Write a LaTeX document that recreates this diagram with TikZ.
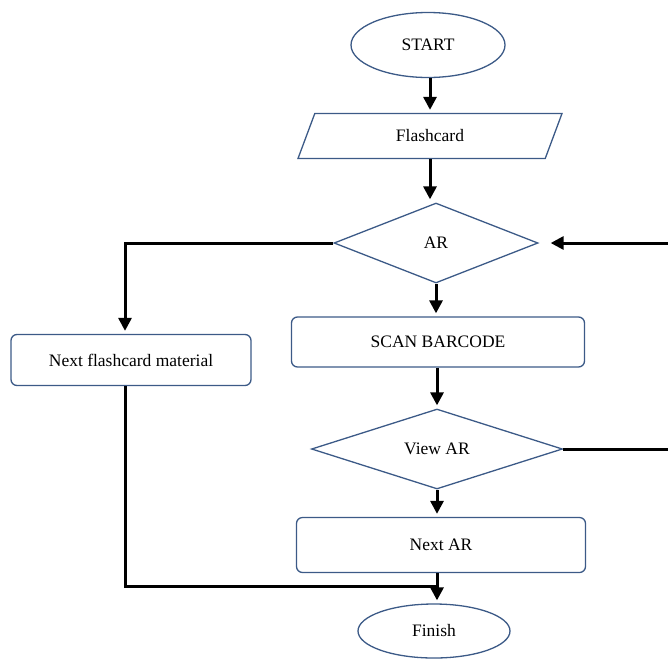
\documentclass[tikz,border=0pt]{standalone}
\usepackage{fontspec}
\setmainfont{Liberation Serif}
\usetikzlibrary{shapes.geometric,arrows.meta}
\definecolor{edgeblue}{RGB}{60,90,135}

\begin{document}
\begin{tikzpicture}[x=1pt,y=-1pt,
   box/.style={draw=edgeblue,line width=1.3pt,rectangle,rounded corners=6pt},
   oval/.style={draw=edgeblue,line width=1.3pt,ellipse},
   choice/.style={draw=edgeblue,line width=1.3pt,diamond,inner sep=0pt},
   flow/.style={line width=3pt,-{Triangle[length=13pt,width=13pt]},shorten >=3pt},
   every node/.style={font=\fontsize{17.5}{20}\selectfont}]
   \useasboundingbox (0,0) rectangle (668,659);

   \node[oval,minimum width=154,minimum height=65] (start) at (428,45) {START};
   \node[draw=edgeblue,line width=1.3pt,trapezium,trapezium left angle=74,
         trapezium right angle=106,trapezium stretches=true,
         minimum width=266,minimum height=45] (flash) at (430,136) {Flashcard};
   \node[choice,minimum width=204,minimum height=80] (ar) at (436,243) {AR};
   \node[box,minimum width=240,minimum height=51] (nextfc) at (131,360) {Next flashcard material};
   \node[box,minimum width=293,minimum height=50] (scan) at (438,342) {SCAN BARCODE};
   \node[choice,minimum width=251,minimum height=80] (view) at (437,449) {View AR};
   \node[box,minimum width=289,minimum height=55] (nextar) at (441,545) {Next AR};
   \node[oval,minimum width=152,minimum height=54] (finish) at (434,631) {Finish};

   \coordinate (loop) at (690,350);
   \coordinate (join) at (437,586);

   \draw[flow] (flash.north |- start.south) -- (flash.north);
   \draw[flow] (flash.south) -- (flash.south |- ar.north);
   \draw[flow] (ar.south) -- (ar.south |- scan.north);
   \draw[flow] (scan.south -| view.north) -- (view.north);
   \draw[flow] (view.south) -- (view.south |- nextar.north);
   \draw[flow] (nextar.south -| join) -- (finish.north -| join);
   \draw[flow] (ar.west) -| ([xshift=-6pt]nextfc.north);
   \draw[line width=3pt] ([xshift=-6pt]nextfc.south) |- (join);
   \draw[flow,shorten >=12pt] (view.east) -| (loop) |- (ar.east);
\end{tikzpicture}
\end{document}
